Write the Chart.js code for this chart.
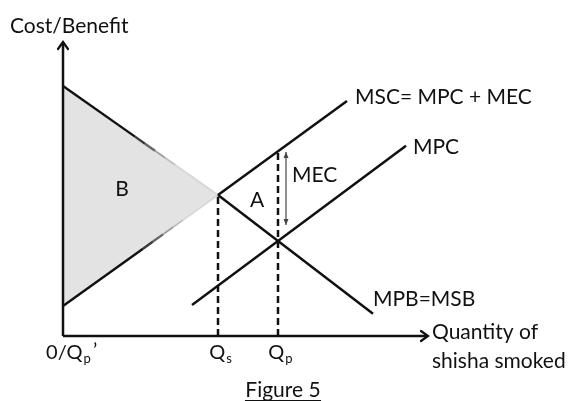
<!DOCTYPE html>
<html>
<head>
<meta charset="utf-8">
<script src="https://cdn.jsdelivr.net/npm/chart.js@4.4.0/dist/chart.umd.min.js"></script>
<style>
  html, body { margin: 0; padding: 0; background: #fff; }
  canvas { display: block; }
</style>
</head>
<body>
<canvas id="chart" width="571" height="401"></canvas>
<script>
// quantities on the x axis
const qNames = ['Qs', 'Qp'];
const qValues = [7.75, 10.75];

// curves (x and y end points)
const mscX = [7.75, 14.2];
const mscY = [7.05, 11.75];
const mpcX = [6.45, 17.15];
const mpcY = [1.55, 9.51];
const mpbX = [7.75, 15.5];
const mpbY = [7.05, 1.11];

// area B (welfare triangle)
const areaTopX = [0, 7.75];
const areaTopY = [12.5, 7.05];
const areaBotX = [0, 7.75];
const areaBotY = [1.5, 7.05];

// MEC gap at Qp
const mecX = 11.15;
const mecY = [9.2, 5.55];

// heights where the dashed lines stop
const dashTop = [7.05, 9.24];

const xMax = 18.25, yMax = 14.7;

const pts = (xs, ys) => xs.map((v, i) => ({ x: v, y: ys[i] }));
const lineAt = (xs, ys, a, b) => {
  const k = (ys[1] - ys[0]) / (xs[1] - xs[0]);
  return [{ x: a, y: ys[0] + k * (a - xs[0]) }, { x: b, y: ys[0] + k * (b - xs[0]) }];
};

const solid = (data, color, width) => ({
  data, showLine: true, borderColor: color, borderWidth: width,
  pointRadius: 0, fill: false, clip: false, tension: 0, order: 1
});

const datasets = [
  // B fill: top and bottom edges, filled between (drawn first, behind)
  { data: pts(areaTopX, areaTopY), showLine: true, borderWidth: 0, borderColor: 'rgba(0,0,0,0)',
    pointRadius: 0, fill: '+1', backgroundColor: '#e3e3e3', order: 10 },
  { data: pts(areaBotX, areaBotY), showLine: true, borderWidth: 0, borderColor: 'rgba(0,0,0,0)',
    pointRadius: 0, fill: false, order: 10 },
  // curves
  solid(pts(mscX, mscY), '#111', 2.5),
  solid(pts(mpcX, mpcY), '#111', 2.5),
  solid(pts(mpbX, mpbY), '#111', 2.5),
  // axes
  solid([{ x: 0, y: 0 }, { x: xMax, y: 0 }], '#111', 2.5),
  solid([{ x: 0, y: 0 }, { x: 0, y: yMax }], '#111', 2.5),
  // MEC gap
  solid([{ x: mecX, y: mecY[0] }, { x: mecX, y: mecY[1] }], '#555', 1.3)
];

// B edges: dark near the axis, fading out towards the apex
const fadeSteps = [0, 3.6, 4.1, 4.6, 5.1, 5.6, 7.75];
const fadeShades = ['#111', '#3a3a3a', '#666', '#999', '#bdbdbd', '#d6d6d6'];
[[areaTopX, areaTopY, 0], [areaBotX, areaBotY, 0.4]].forEach(([xs, ys, shift]) => {
  fadeShades.forEach((c, i) => {
    const a = i === 0 ? 0 : fadeSteps[i] + shift;
    const b = i === fadeShades.length - 1 ? 7.75 : fadeSteps[i + 1] + shift;
    datasets.push(solid(lineAt(xs, ys, a, b), c, i < 3 ? 2.4 : 1.6));
  });
});

qValues.forEach((q, i) => {
  const d = solid([{ x: q, y: 0 }, { x: q, y: dashTop[i] }], '#111', 2.5);
  d.borderDash = [7, 4];
  datasets.push(d);
});

const FONT = 'Lato, "Open Sans", sans-serif';

const overlay = {
  id: 'overlay',
  afterDatasetsDraw(chart) {
    const { ctx, scales: { x, y } } = chart;
    const px = v => x.getPixelForValue(v);
    const py = v => y.getPixelForValue(v);
    ctx.save();
    ctx.strokeStyle = '#111';
    ctx.fillStyle = '#111';
    ctx.lineWidth = 2.2;
    ctx.lineCap = 'round';

    // y axis arrow head
    const ox = px(0), oy = py(0), ty = py(yMax), rx = px(xMax);
    ctx.beginPath();
    ctx.moveTo(ox - 5, ty + 7); ctx.lineTo(ox, ty); ctx.lineTo(ox + 5, ty + 7);
    ctx.stroke();
    // x axis arrow head
    ctx.beginPath();
    ctx.moveTo(rx - 7, oy - 5); ctx.lineTo(rx, oy); ctx.lineTo(rx - 7, oy + 5);
    ctx.stroke();

    // MEC arrow heads
    ctx.fillStyle = '#444';
    const mx = px(mecX);
    [[py(mecY[0]), 1], [py(mecY[1]), -1]].forEach(([yy, d]) => {
      ctx.beginPath();
      ctx.moveTo(mx, yy); ctx.lineTo(mx - 2.5, yy + d * 6); ctx.lineTo(mx + 2.5, yy + d * 6);
      ctx.closePath(); ctx.fill();
    });

    // labels
    ctx.fillStyle = '#111';
    ctx.textBaseline = 'middle';
    ctx.textAlign = 'left';
    ctx.font = '21px ' + FONT;
    ctx.fillText('Cost/Benefit', 10, 26);
    ctx.fillText('MSC= MPC + MEC', px(mscX[1]) + 8, py(mscY[1]) - 4);
    ctx.fillText('MPC', px(mpcX[1]) + 7, py(mpcY[1]) + 1);
    ctx.fillText('MPB=MSB', px(mpbX[1]), py(mpbY[1]) - 15);
    ctx.fillText('MEC', mx + 6, (py(mecY[0]) + py(mecY[1])) / 2 - 13);
    ctx.fillText('Quantity of', rx + 4, oy - 4);
    ctx.fillText('shisha smoked', rx + 4, oy + 25);

    ctx.textAlign = 'center';
    ctx.fillText('A', 257, 200);
    ctx.fillText('B', 122, 189);

    // axis tick labels with subscripts
    const sub = (main, s, cx, cy, prime) => {
      ctx.font = '20px ' + FONT;
      const w1 = ctx.measureText(main).width;
      ctx.font = '13px ' + FONT;
      const w2 = ctx.measureText(s).width;
      const total = w1 + w2 + (prime ? 6 : 0);
      let sx = cx - total / 2;
      ctx.textAlign = 'left';
      ctx.font = '20px ' + FONT;
      ctx.fillText(main, sx, cy);
      ctx.font = '13px ' + FONT;
      ctx.fillText(s, sx + w1 + 1, cy + 6);
      if (prime) {
        ctx.font = '20px ' + FONT;
        ctx.fillText('\u2019', sx + w1 + w2 + 3, cy - 2);
      }
    };
    sub('0/Q', 'p', ox + 8, oy + 17, true);
    qValues.forEach((q, i) => sub('Q', qNames[i].slice(1), px(q) + 2, oy + 17, false));

    // caption
    ctx.font = '21px ' + FONT;
    ctx.textAlign = 'center';
    ctx.fillText('Figure 5', 283, 390);
    const fw = ctx.measureText('Figure 5').width;
    ctx.lineWidth = 1;
    ctx.beginPath();
    ctx.moveTo(283 - fw / 2, 400.5); ctx.lineTo(283 + fw / 2, 400.5);
    ctx.stroke();
    ctx.restore();
  }
};

new Chart(document.getElementById('chart'), {
  type: 'scatter',
  data: { datasets },
  options: {
    responsive: false,
    animation: false,
    layout: { padding: { left: 63, top: 42, right: 571 - 428, bottom: 401 - 336 } },
    scales: {
      x: { type: 'linear', min: 0, max: xMax, display: false },
      y: { type: 'linear', min: 0, max: yMax, display: false }
    },
    plugins: { legend: { display: false }, tooltip: { enabled: false } }
  },
  plugins: [overlay]
});
</script>
</body>
</html>
